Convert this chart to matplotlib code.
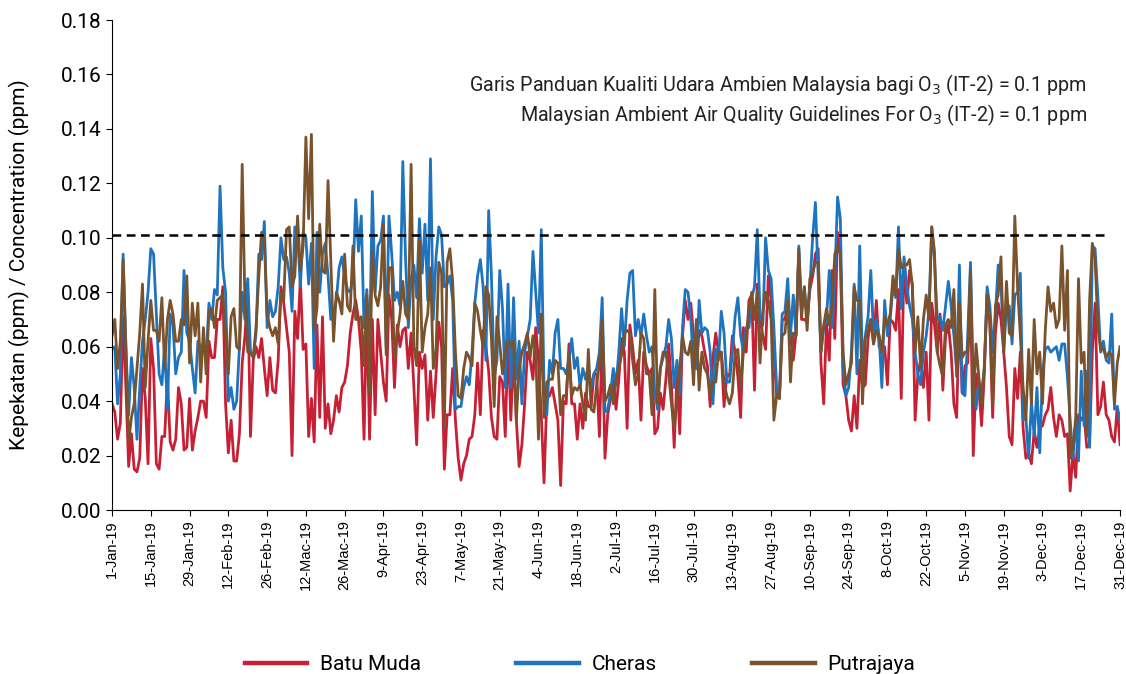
import numpy as np
import pandas as pd
import matplotlib
matplotlib.use("Agg")
import matplotlib.pyplot as plt

# kepekatan O3 harian 2019 (ppm), dibaca dari carta
batu_muda = [
    0.039, 0.036, 0.026, 0.032, 0.071, 0.045, 0.016, 0.028, 0.015, 0.014, 0.019, 0.052, 0.041, 0.017, 0.063, 0.052,
    0.017, 0.015, 0.027, 0.027, 0.048, 0.025, 0.022, 0.026, 0.045, 0.039, 0.022, 0.023, 0.041, 0.022, 0.029, 0.034,
    0.040, 0.040, 0.034, 0.062, 0.056,
    0.056, 0.070, 0.070, 0.082, 0.039, 0.021, 0.033, 0.018, 0.018, 0.028, 0.054, 0.064, 0.081, 0.027, 0.055, 0.060,
    0.056, 0.063, 0.052, 0.042, 0.056, 0.044, 0.043, 0.055, 0.082, 0.076, 0.067, 0.058, 0.020, 0.073, 0.063, 0.085,
    0.059,
    0.061, 0.027, 0.041, 0.025, 0.068, 0.034, 0.071, 0.030, 0.039, 0.028, 0.033, 0.042, 0.036, 0.045, 0.047, 0.053,
    0.065, 0.072, 0.077, 0.070, 0.058, 0.026, 0.075, 0.026, 0.070, 0.035, 0.070, 0.058, 0.047, 0.040, 0.079, 0.070,
    0.045, 0.068, 0.060, 0.066, 0.067, 0.052, 0.065, 0.045,
    0.024, 0.058, 0.052, 0.057, 0.033, 0.051, 0.034, 0.050, 0.069, 0.060, 0.015, 0.035, 0.035, 0.052, 0.033, 0.019,
    0.011, 0.017, 0.020, 0.026, 0.027, 0.035, 0.054, 0.035, 0.066, 0.060, 0.051, 0.034, 0.027, 0.026, 0.049, 0.047,
    0.027, 0.064, 0.033, 0.058, 0.033, 0.016, 0.024, 0.039, 0.058, 0.055, 0.048, 0.067, 0.055, 0.035, 0.010, 0.041,
    0.042, 0.045, 0.039, 0.033, 0.009, 0.040, 0.039, 0.061, 0.039, 0.039, 0.026, 0.039, 0.030, 0.043, 0.038, 0.038,
    0.050, 0.050, 0.027, 0.065,
    0.019, 0.035, 0.041, 0.048, 0.037, 0.048, 0.063, 0.058, 0.030, 0.068, 0.060, 0.050, 0.055, 0.033, 0.058, 0.053,
    0.050, 0.052, 0.028, 0.030, 0.043, 0.037, 0.048, 0.061, 0.046, 0.023, 0.050, 0.028, 0.064, 0.077, 0.070, 0.076,
    0.064, 0.052, 0.066, 0.064,
    0.058, 0.053, 0.038, 0.056, 0.065, 0.058, 0.058, 0.038, 0.050, 0.049, 0.064, 0.058, 0.049, 0.034, 0.067, 0.058,
    0.077, 0.079, 0.044, 0.083, 0.070, 0.064, 0.059, 0.086, 0.077, 0.058, 0.042, 0.041, 0.070, 0.070, 0.076, 0.064,
    0.055, 0.065, 0.094, 0.070,
    0.070, 0.069, 0.081, 0.086, 0.094, 0.096, 0.054, 0.039, 0.069, 0.055, 0.088, 0.063, 0.102, 0.094, 0.046, 0.042,
    0.033, 0.029, 0.042, 0.030, 0.055, 0.045, 0.046, 0.063, 0.070, 0.061, 0.077, 0.060, 0.059, 0.060, 0.046, 0.070,
    0.069, 0.066, 0.081, 0.041,
    0.091, 0.076, 0.088, 0.083, 0.033, 0.050, 0.055, 0.045, 0.058, 0.033, 0.076, 0.068, 0.058, 0.072, 0.044, 0.064,
    0.068, 0.058, 0.039, 0.034, 0.073, 0.043, 0.053, 0.054, 0.082, 0.020, 0.050, 0.045, 0.031, 0.050, 0.080, 0.068,
    0.034, 0.065, 0.076, 0.070,
    0.058, 0.045, 0.027, 0.024, 0.052, 0.041, 0.058, 0.030, 0.019, 0.021, 0.017, 0.029, 0.023, 0.030, 0.031, 0.035,
    0.037, 0.045, 0.034, 0.027, 0.035, 0.033, 0.027, 0.028, 0.007, 0.021, 0.012, 0.035, 0.033, 0.035, 0.023, 0.024,
    0.058, 0.076, 0.035, 0.038, 0.047, 0.035, 0.033, 0.027, 0.025, 0.038, 0.024,
]

cheras = [
    0.059, 0.060, 0.039, 0.050, 0.094, 0.060, 0.035, 0.056, 0.045, 0.026, 0.045, 0.062, 0.070, 0.080, 0.096, 0.094,
    0.072, 0.050, 0.046, 0.060, 0.037, 0.072, 0.068, 0.050, 0.056, 0.058, 0.088, 0.065, 0.062, 0.052, 0.043, 0.062,
    0.060, 0.060, 0.056, 0.076, 0.070,
    0.081, 0.079, 0.119, 0.089, 0.080, 0.040, 0.045, 0.037, 0.040, 0.060, 0.080, 0.070, 0.085, 0.058, 0.056, 0.065,
    0.094, 0.092, 0.106, 0.067, 0.077, 0.071, 0.073, 0.082, 0.100, 0.092, 0.093, 0.087, 0.073, 0.104, 0.101, 0.082,
    0.102,
    0.100, 0.083, 0.098, 0.052, 0.102, 0.080, 0.094, 0.098, 0.086, 0.070, 0.072, 0.077, 0.089, 0.093, 0.086, 0.081,
    0.080, 0.085, 0.114, 0.095, 0.108, 0.067, 0.081, 0.060, 0.117, 0.080, 0.097, 0.099, 0.108, 0.060, 0.108, 0.094,
    0.077, 0.080, 0.075, 0.128, 0.092, 0.067, 0.085, 0.090,
    0.078, 0.107, 0.087, 0.105, 0.077, 0.129, 0.070, 0.093, 0.104, 0.101, 0.082, 0.083, 0.086, 0.077, 0.037, 0.038,
    0.038, 0.045, 0.049, 0.046, 0.058, 0.076, 0.086, 0.092, 0.082, 0.055, 0.110, 0.086, 0.049, 0.055, 0.088, 0.074,
    0.045, 0.083, 0.045, 0.078, 0.048, 0.062, 0.039, 0.058, 0.064, 0.070, 0.095, 0.080, 0.065, 0.103, 0.045, 0.035,
    0.055, 0.050, 0.065, 0.070, 0.052, 0.052, 0.050, 0.055, 0.063, 0.052, 0.056, 0.045, 0.052, 0.048, 0.053, 0.045,
    0.050, 0.052, 0.058, 0.078,
    0.036, 0.037, 0.043, 0.052, 0.046, 0.058, 0.074, 0.060, 0.077, 0.087, 0.088, 0.064, 0.070, 0.064, 0.072, 0.064,
    0.058, 0.060, 0.043, 0.037, 0.052, 0.056, 0.060, 0.070, 0.063, 0.045, 0.055, 0.043, 0.067, 0.081, 0.080, 0.070,
    0.053, 0.052, 0.077, 0.065,
    0.067, 0.066, 0.058, 0.039, 0.059, 0.055, 0.073, 0.065, 0.047, 0.047, 0.058, 0.071, 0.078, 0.064, 0.058, 0.067,
    0.067, 0.078, 0.082, 0.103, 0.072, 0.068, 0.100, 0.088, 0.085, 0.067, 0.045, 0.041, 0.072, 0.073, 0.085, 0.064,
    0.079, 0.064, 0.097, 0.073,
    0.082, 0.070, 0.082, 0.100, 0.113, 0.085, 0.058, 0.067, 0.070, 0.088, 0.067, 0.085, 0.115, 0.107, 0.052, 0.042,
    0.045, 0.058, 0.083, 0.050, 0.097, 0.052, 0.064, 0.071, 0.088, 0.064, 0.070, 0.064, 0.045, 0.077, 0.064, 0.070,
    0.082, 0.078, 0.104, 0.074,
    0.093, 0.082, 0.075, 0.070, 0.058, 0.050, 0.046, 0.058, 0.064, 0.073, 0.104, 0.092, 0.070, 0.071, 0.066, 0.075,
    0.084, 0.075, 0.064, 0.051, 0.090, 0.043, 0.042, 0.064, 0.091, 0.047, 0.037, 0.047, 0.043, 0.052, 0.082, 0.075,
    0.058, 0.072, 0.090, 0.084,
    0.058, 0.075, 0.075, 0.061, 0.079, 0.080, 0.087, 0.033, 0.034, 0.019, 0.040, 0.027, 0.045, 0.021, 0.050, 0.059,
    0.060, 0.058, 0.059, 0.060, 0.055, 0.061, 0.061, 0.049, 0.033, 0.019, 0.033, 0.018, 0.051, 0.031, 0.051, 0.023,
    0.097, 0.096, 0.078, 0.058, 0.062, 0.055, 0.054, 0.072, 0.037, 0.038, 0.033,
]

putrajaya = [
    0.064, 0.070, 0.052, 0.062, 0.092, 0.060, 0.025, 0.034, 0.039, 0.052, 0.065, 0.083, 0.045, 0.062, 0.077, 0.066,
    0.066, 0.062, 0.078, 0.052, 0.070, 0.077, 0.072, 0.062, 0.062, 0.070, 0.068, 0.086, 0.054, 0.076, 0.064, 0.076,
    0.047, 0.067, 0.050, 0.073, 0.074,
    0.067, 0.077, 0.078, 0.079, 0.065, 0.050, 0.071, 0.074, 0.060, 0.059, 0.127, 0.076, 0.058, 0.058, 0.056, 0.067,
    0.086, 0.102, 0.099, 0.072, 0.067, 0.064, 0.067, 0.061, 0.080, 0.077, 0.103, 0.104, 0.082, 0.086, 0.108, 0.088,
    0.097,
    0.137, 0.107, 0.138, 0.066, 0.074, 0.105, 0.088, 0.087, 0.121, 0.092, 0.062, 0.080, 0.077, 0.072, 0.094, 0.075,
    0.073, 0.097, 0.070, 0.070, 0.071, 0.053, 0.079, 0.043, 0.095, 0.079, 0.075, 0.082, 0.105, 0.057, 0.089, 0.089,
    0.055, 0.065, 0.072, 0.084, 0.072, 0.070, 0.127, 0.060,
    0.053, 0.099, 0.058, 0.067, 0.072, 0.089, 0.052, 0.059, 0.091, 0.087, 0.030, 0.091, 0.096, 0.084, 0.058, 0.042,
    0.041, 0.052, 0.058, 0.056, 0.053, 0.076, 0.073, 0.066, 0.060, 0.082, 0.079, 0.063, 0.038, 0.071, 0.061, 0.050,
    0.058, 0.062, 0.060, 0.062, 0.033, 0.052, 0.058, 0.061, 0.065, 0.056, 0.064, 0.058, 0.026, 0.072, 0.034, 0.047,
    0.048, 0.048, 0.055, 0.054, 0.035, 0.042, 0.042, 0.058, 0.042, 0.045, 0.044, 0.046, 0.039, 0.033, 0.059, 0.037,
    0.036, 0.046, 0.054, 0.070,
    0.040, 0.042, 0.046, 0.039, 0.048, 0.052, 0.057, 0.065, 0.066, 0.065, 0.055, 0.046, 0.050, 0.065, 0.063, 0.050,
    0.050, 0.035, 0.081, 0.039, 0.052, 0.058, 0.058, 0.050, 0.039, 0.030, 0.040, 0.052, 0.064, 0.058, 0.057, 0.062,
    0.046, 0.070, 0.044, 0.058,
    0.052, 0.050, 0.042, 0.047, 0.047, 0.058, 0.058, 0.047, 0.042, 0.039, 0.043, 0.058, 0.059, 0.045, 0.058, 0.064,
    0.073, 0.080, 0.070, 0.080, 0.054, 0.072, 0.080, 0.077, 0.070, 0.033, 0.042, 0.041, 0.064, 0.065, 0.077, 0.047,
    0.065, 0.064, 0.096, 0.071,
    0.082, 0.066, 0.085, 0.087, 0.091, 0.091, 0.058, 0.068, 0.074, 0.068, 0.075, 0.094, 0.097, 0.094, 0.058, 0.046,
    0.050, 0.054, 0.082, 0.077, 0.077, 0.039, 0.063, 0.066, 0.070, 0.061, 0.066, 0.064, 0.058, 0.071, 0.068, 0.072,
    0.086, 0.079, 0.096, 0.089,
    0.090, 0.090, 0.092, 0.082, 0.058, 0.071, 0.052, 0.070, 0.079, 0.070, 0.104, 0.095, 0.058, 0.053, 0.049, 0.068,
    0.070, 0.067, 0.081, 0.049, 0.076, 0.056, 0.058, 0.058, 0.088, 0.039, 0.061, 0.049, 0.039, 0.053, 0.079, 0.070,
    0.039, 0.075, 0.079, 0.093,
    0.058, 0.084, 0.065, 0.064, 0.108, 0.082, 0.064, 0.045, 0.033, 0.059, 0.039, 0.070, 0.050, 0.058, 0.039, 0.066,
    0.082, 0.073, 0.076, 0.067, 0.070, 0.097, 0.066, 0.088, 0.019, 0.023, 0.034, 0.085, 0.054, 0.058, 0.027, 0.077,
    0.098, 0.092, 0.067, 0.059, 0.059, 0.056, 0.058, 0.057, 0.039, 0.054, 0.060,
]

garis_panduan = 0.101
bulan = ["Jan", "Feb", "Mac", "Apr", "May", "Jun", "Jul", "Aug", "Sep", "Oct", "Nov", "Dec"]

plt.rcParams['font.family'] = ['Roboto', 'DejaVu Sans']

fig = plt.figure(figsize=(11.26, 6.74), dpi=100)
ax = fig.add_axes([0.0995, 0.2433, 0.8952, 0.7270])

siri = [
    (batu_muda, "Batu Muda", "#C62035"),
    (cheras, "Cheras", "#1F74BF"),
    (putrajaya, "Putrajaya", "#7A522B"),
]
for nilai, nama, warna in siri:
    tarikh = pd.date_range("2019-01-01", periods=len(nilai), freq="D")
    ax.plot(tarikh, nilai, color=warna, lw=2.0, label=nama, solid_joinstyle="round")

# garis panduan 0.1 ppm
hari_gp = pd.date_range("2019-01-01", "2019-12-26", freq="D")
ax.plot(hari_gp, [garis_panduan] * len(hari_gp), color="black", lw=1.8, ls=(0, (3.5, 2.2)))

ax.set_ylim(0, 0.18)
ax.set_yticks(np.arange(0, 0.181, 0.02))
ax.set_yticklabels([f"{v:.2f}" for v in np.arange(0, 0.181, 0.02)], fontsize=15)
ax.set_ylabel("Kepekatan (ppm) / Concentration (ppm)", fontsize=15, labelpad=22)

ax.set_xlim(pd.Timestamp("2019-01-01"), pd.Timestamp("2019-12-31"))
tik = pd.date_range("2019-01-01", "2019-12-31", freq="14D")
ax.set_xticks(tik)
ax.set_xticklabels([f"{t.day}-{bulan[t.month - 1]}-19" for t in tik], rotation=90,
                   fontsize=10.5, family="Liberation Sans")

for s in ["top", "right"]:
    ax.spines[s].set_visible(False)
ax.tick_params(axis="both", direction="out", length=4, color="black")

ax.text(0.967, 0.837,
        "Garis Panduan Kualiti Udara Ambien Malaysia bagi O$_3$ (IT-2) = 0.1 ppm\n"
        "Malaysian Ambient Air Quality Guidelines For O$_3$ (IT-2) = 0.1 ppm",
        transform=ax.transAxes, ha="right", va="center", fontsize=14.2,
        linespacing=1.25, color="#222222")

leg = fig.legend(loc="center", bbox_to_anchor=(0.515, 0.014), ncol=3, frameon=False,
                 fontsize=15, handlelength=3.0, columnspacing=4.6, handletextpad=0.6)
for ln in leg.get_lines():
    ln.set_linewidth(3.2)

fig.savefig("out.png", dpi=100)
